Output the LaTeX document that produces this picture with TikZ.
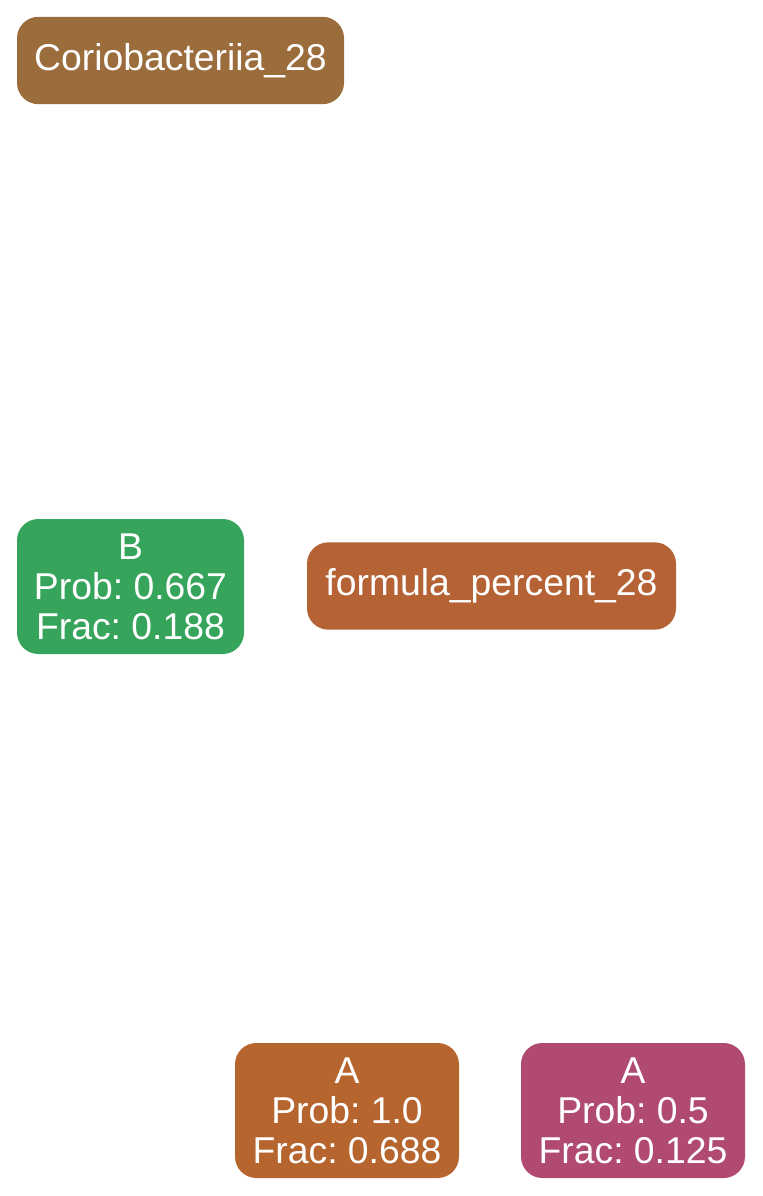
\documentclass[tikz,border=0pt]{standalone}
\usepackage{fontspec}
\setmainfont{Liberation Sans}
\usepackage{xcolor}
\usepackage{tikz}
\definecolor{taxonfill}{RGB}{155,108,60}
\definecolor{formulafill}{RGB}{181,98,52}
\definecolor{leafB}{RGB}{55,164,92}
\definecolor{leafA}{RGB}{182,101,46}
\definecolor{leafApink}{RGB}{176,74,113}
\tikzset{
  box/.style={rectangle,rounded corners=16pt,draw=none,inner sep=0pt,
    text=white,font=\fontsize{28}{30}\selectfont\frenchspacing,align=center},
  header/.style={box,minimum height=65.5pt},
  leaf/.style={box,minimum height=101.25pt}
}
\begin{document}
\begin{tikzpicture}[x=0.75pt,y=-0.75pt]
  \useasboundingbox (0,0) rectangle (763,1196);
  \node[header,fill=taxonfill,minimum width=245.25pt] (taxon) at (180.5,60.5) {Coriobacteriia\_28};
  \node[header,fill=formulafill,minimum width=276.75pt] (formula) at (491.5,586) {formula\_percent\_28};
  \node[leaf,fill=leafB,minimum width=170.25pt] (leafb) at (130.5,586.5) {B\\Prob: 0.667\\Frac: 0.188};
  \node[leaf,fill=leafA,minimum width=168pt] (leafa1) at (347,1110.5) {A\\Prob: 1.0\\Frac: 0.688};
  \node[leaf,fill=leafApink,minimum width=168pt] (leafa2) at (633,1110.5) {A\\Prob: 0.5\\Frac: 0.125};
\end{tikzpicture}
\end{document}
